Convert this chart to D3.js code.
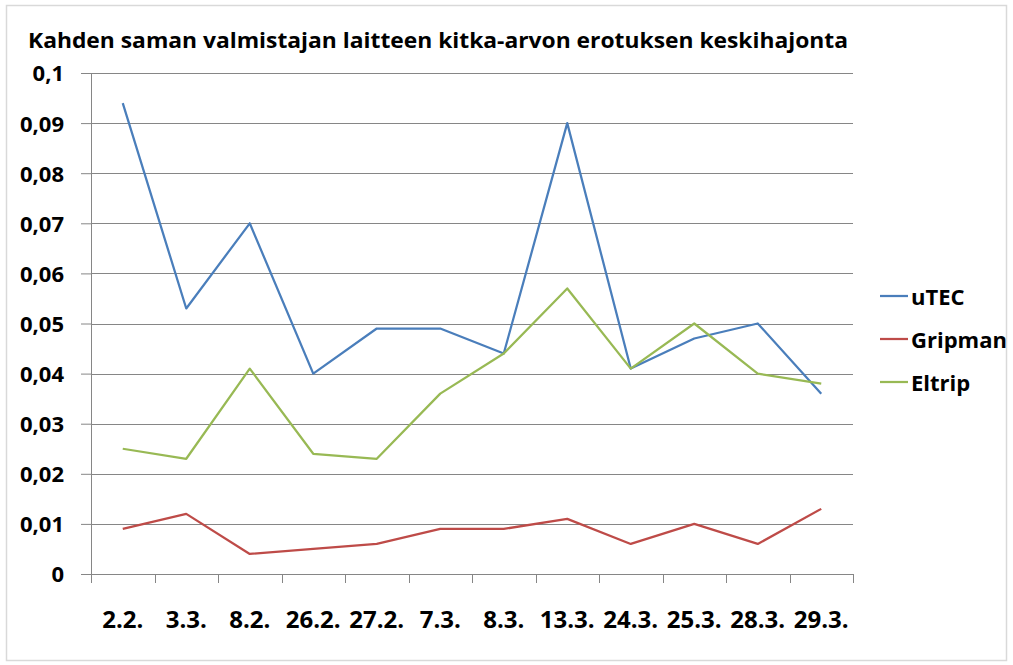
<!DOCTYPE html>
<html>
<head>
<meta charset="utf-8">
<script src="https://cdn.jsdelivr.net/npm/d3@7"></script>
<style>
  body { margin: 0; background: #fff; }
  svg { display: block; font-family: "Open Sans", Lato, sans-serif; font-weight: bold; }
</style>
</head>
<body>
<svg id="chart" width="1013" height="665"></svg>
<script>
// values
const categories = ['2.2.', '3.3.', '8.2.', '26.2.', '27.2.', '7.3.', '8.3.', '13.3.', '24.3.', '25.3.', '28.3.', '29.3.'];
const utec    = [0.094, 0.053, 0.070, 0.040, 0.049, 0.049, 0.044, 0.090, 0.041, 0.047, 0.050, 0.036];
const gripman = [0.009, 0.012, 0.004, 0.005, 0.006, 0.009, 0.009, 0.011, 0.006, 0.010, 0.006, 0.013];
const eltrip  = [0.025, 0.023, 0.041, 0.024, 0.023, 0.036, 0.044, 0.057, 0.041, 0.050, 0.040, 0.038];
const yTicks = [0, 0.01, 0.02, 0.03, 0.04, 0.05, 0.06, 0.07, 0.08, 0.09, 0.1];
const series = [
  { name: 'uTEC', values: utec, color: '#4a7ebb' },
  { name: 'Gripman', values: gripman, color: '#be4b48' },
  { name: 'Eltrip', values: eltrip, color: '#98b954' }
];

const svg = d3.select('#chart');
const plot = { left: 91, right: 853, top: 73, bottom: 574 };

// chart frame
svg.append('rect').attr('x', 6.5).attr('y', 5.5).attr('width', 1000).attr('height', 655)
  .attr('fill', 'none').attr('stroke', '#d9d9d9').attr('stroke-width', 1.5);

svg.append('text').attr('x', 28).attr('y', 48).attr('font-size', 21)
  .attr('textLength', 820).attr('lengthAdjust', 'spacingAndGlyphs')
  .attr('fill', '#000').text('Kahden saman valmistajan laitteen kitka-arvon erotuksen keskihajonta');

const x = d3.scaleBand().domain(categories).range([plot.left, plot.right]);
const y = d3.scaleLinear().domain([0, 0.1]).range([plot.bottom, plot.top]);
const fmt = d => d3.format('.2~f')(d).replace('.', ',');

// horizontal gridlines + y axis
const yAxis = svg.append('g').attr('transform', `translate(${plot.left},0)`)
  .call(d3.axisLeft(y).tickValues(yTicks).tickFormat(fmt).tickSize(10).tickPadding(17));
yAxis.select('.domain').attr('stroke', '#868686');
yAxis.selectAll('.tick line').attr('stroke', '#868686');
yAxis.selectAll('.tick text').attr('font-size', 22).attr('fill', '#000')
  .attr('font-family', '"Open Sans", sans-serif').attr('dy', '0.36em');
svg.append('g').selectAll('line').data(yTicks.filter(d => d > 0)).join('line')
  .attr('x1', plot.left).attr('x2', plot.right)
  .attr('y1', d => Math.round(y(d)) + 0.5).attr('y2', d => Math.round(y(d)) + 0.5)
  .attr('stroke', '#868686').attr('stroke-width', 1);

// x axis with ticks between categories
const xAxis = svg.append('g').attr('transform', `translate(0,${plot.bottom})`);
xAxis.append('line').attr('x1', plot.left - 10).attr('x2', plot.right).attr('y1', 0.5).attr('y2', 0.5).attr('stroke', '#868686');
const bounds = categories.map(c => x(c)).concat([plot.right]);
xAxis.selectAll('line.tk').data(bounds).join('line').attr('class', 'tk')
  .attr('x1', d => Math.round(d) + 0.5).attr('x2', d => Math.round(d) + 0.5)
  .attr('y1', 0).attr('y2', 9).attr('stroke', '#868686');
xAxis.selectAll('text').data(categories).join('text')
  .attr('x', d => x(d) + x.bandwidth() / 2).attr('y', 54)
  .attr('text-anchor', 'middle').attr('font-size', 24).attr('fill', '#000').text(d => d);

// lines
const line = d3.line().x((d, i) => x(categories[i]) + x.bandwidth() / 2).y(d => y(d));
svg.append('g').selectAll('path').data(series).join('path')
  .attr('d', d => line(d.values)).attr('fill', 'none')
  .attr('stroke', d => d.color).attr('stroke-width', 2.25).attr('stroke-linejoin', 'round');

// legend
const lg = svg.append('g').selectAll('g').data(series).join('g')
  .attr('transform', (d, i) => `translate(880,${296 + i * 43})`);
lg.append('line').attr('x1', 0).attr('x2', 28).attr('stroke', d => d.color).attr('stroke-width', 2.25);
lg.append('text').attr('x', 31).attr('y', 8.5).attr('font-size', 22).attr('fill', '#000').text(d => d.name);
</script>
</body>
</html>
